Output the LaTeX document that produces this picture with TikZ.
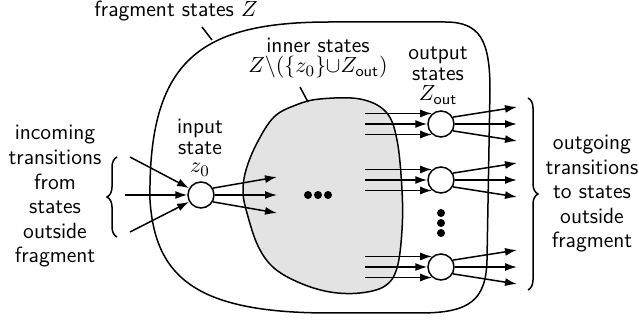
\documentclass[tikz,border=0pt]{standalone}
\usepackage{amsmath}
\usetikzlibrary{arrows.meta,decorations.pathreplacing}
\renewcommand{\familydefault}{\sfdefault}
\begin{document}
\begin{tikzpicture}[x=0.5pt,y=-0.5pt, line width=0.75pt,
  arr/.style={-{Latex[length=6pt,width=4pt]}},
  st/.style={circle, draw, fill=white, minimum size=13pt, inner sep=0pt},
  lbl/.style={font=\fontsize{11}{12.3}\selectfont, align=center, anchor=base, inner sep=0pt},
  lbls/.style={lbl, font=\fontsize{11}{10.5}\selectfont},
  brc/.style={decorate, decoration={brace, amplitude=5pt}},
  dot/.style={circle, fill=black, inner sep=0pt, minimum size=4pt}]
\useasboundingbox (0,0) rectangle (639,320);
% outer region
\draw (150,200) .. controls (148,60) and (200,22) .. (330,22) -- (445,22)
  .. controls (480,22) and (490,40) .. (490,90) -- (487,260)
  .. controls (486,300) and (470,313) .. (420,313) -- (330,313)
  .. controls (200,313) and (155,280) .. (150,200) -- cycle;
% inner region
\draw[fill=gray!22] plot[smooth cycle, tension=0.6] coordinates {
  (320,99) (360,99) (386,112) (397,140) (402,190) (402,230) (397,268)
  (385,286) (360,293) (330,292) (300,283) (274,268) (258,246) (247,213)
  (243,192) (246,170) (257,143) (274,117) (296,105)};
% labels (anchor=base is the baseline of the last line)
\node[lbl] (ft) at (176,17) {fragment states $Z$};
\node[lbls] (it) at (318,73) {inner states\\[-0.5pt]$Z\backslash(\{z_0\}{\cup}Z_{\textsf{out}})$};
\node[lbls] (inp) at (200,173) {input\\state\\[-1.5pt]$z_0$};
\node[lbls] (outp) at (438,101) {output\\states\\[-0.5pt]$Z_{\textsf{out}}$};
\node[lbl] (inc) at (55,263) {incoming\\transitions\\from\\states\\outside\\fragment};
\node[lbl] (outg) at (592,248) {outgoing\\transitions\\to states\\outside\\fragment};
% pointer lines
\coordinate (fp1) at (202,27); \coordinate (fp2) at (212,40);
\draw (fp1) -- (fp2);
\coordinate (ip1) at (300,87); \coordinate (ip2) at (308,102);
\draw (ip1) -- (ip2);
% states
\node[st] (z0) at (201,195) {};
\node[st] (o1) at (441,124) {};
\node[st] (o2) at (441,180) {};
\node[st] (o3) at (441,267) {};
% incoming
\coordinate (i1) at (130,157); \coordinate (i2) at (125,195); \coordinate (i3) at (130,232);
\draw[arr] (i1) -- (z0.150);
\draw[arr] (i2) -- (z0.west);
\draw[arr] (i3) -- (z0.210);
% into inner region
\coordinate (b1) at (277,177); \coordinate (b2) at (277,195); \coordinate (b3) at (277,213);
\draw[arr] (z0.30) -- (b1);
\draw[arr] (z0.east) -- (b2);
\draw[arr] (z0.-30) -- (b3);
% output states
\coordinate (L) at (365,0);
\foreach \o in {o1,o2,o3} {
  \path (\o) ++(76,-17) coordinate (\o-u) ++(0,17) coordinate (\o-m) ++(0,17) coordinate (\o-d);
  \draw[arr] (\o.130 -| L) -- (\o.130);
  \draw[arr] (\o.west -| L) -- (\o.west);
  \draw[arr] (\o.230 -| L) -- (\o.230);
  \draw[arr] (\o.30) -- (\o-u);
  \draw[arr] (\o.east) -- (\o-m);
  \draw[arr] (\o.-30) -- (\o-d);
}
% dots
\node[dot] (h1) at (308,195) {};
\node[dot] (h2) at (318,195) {};
\node[dot] (h3) at (328,195) {};
\node[dot] (v1) at (441,213) {};
\node[dot] (v2) at (441,223) {};
\node[dot] (v3) at (441,233) {};
% braces
\coordinate (lb1) at (117,237); \coordinate (lb2) at (117,157);
\draw[brc] (lb1) -- (lb2);
\coordinate (rb1) at (528,98); \coordinate (rb2) at (528,290);
\draw[brc] (rb1) -- (rb2);
\end{tikzpicture}
\end{document}
